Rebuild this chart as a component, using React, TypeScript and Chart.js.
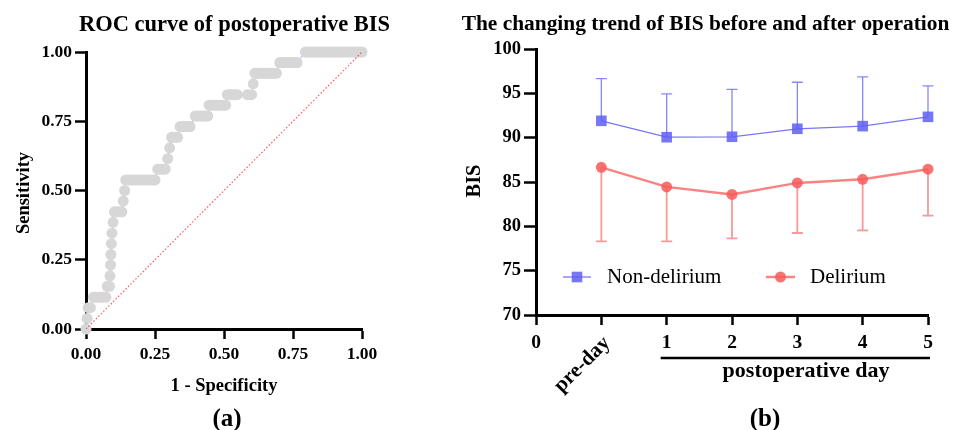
import React, { useEffect, useRef } from 'react';
import { Chart, registerables } from 'chart.js';

Chart.register(...registerables);

const FONT = "'Times New Roman', 'Liberation Serif', 'DejaVu Serif', serif";

// ---------- (a) ROC curve data ----------
const rocFpr = [
  0.000, 0.004, 0.008, 0.016,
  0.027, 0.036, 0.045, 0.054, 0.063, 0.072,
  0.077, 0.085,
  0.087, 0.089, 0.090, 0.092, 0.094, 0.098,
  0.103, 0.112, 0.121, 0.130,
  0.135, 0.140,
  0.144, 0.153, 0.162, 0.171, 0.180, 0.189, 0.198, 0.207, 0.216, 0.225, 0.234, 0.243, 0.250,
  0.260, 0.269, 0.278, 0.287,
  0.296, 0.303, 0.310, 0.314, 0.323, 0.332,
  0.341, 0.350, 0.359, 0.368, 0.377,
  0.396, 0.405, 0.414, 0.423, 0.432, 0.441,
  0.446, 0.455, 0.464, 0.473, 0.482, 0.491, 0.500, 0.506,
  0.512, 0.521, 0.530, 0.539, 0.548, 0.585, 0.600,
  0.606, 0.612, 0.621, 0.630, 0.639, 0.648, 0.657, 0.666, 0.675, 0.684, 0.690,
  0.702, 0.711, 0.720, 0.729, 0.738, 0.747, 0.756, 0.765,
  0.795, 0.804, 0.813, 0.822, 0.831, 0.840, 0.849, 0.858, 0.867, 0.876, 0.885, 0.894,
  0.903, 0.912, 0.921, 0.930, 0.939, 0.948, 0.957, 0.966, 0.975, 0.984, 0.993, 1.000,
];
const rocTpr = [
  0.000, 0.038, 0.077, 0.077,
  0.115, 0.115, 0.115, 0.115, 0.115, 0.115,
  0.154, 0.154,
  0.192, 0.231, 0.269, 0.308, 0.346, 0.385,
  0.423, 0.423, 0.423, 0.423,
  0.462, 0.500,
  0.538, 0.538, 0.538, 0.538, 0.538, 0.538, 0.538, 0.538, 0.538, 0.538, 0.538, 0.538, 0.538,
  0.577, 0.577, 0.577, 0.577,
  0.615, 0.654, 0.692, 0.692, 0.692, 0.692,
  0.731, 0.731, 0.731, 0.731, 0.731,
  0.769, 0.769, 0.769, 0.769, 0.769, 0.769,
  0.808, 0.808, 0.808, 0.808, 0.808, 0.808, 0.808, 0.808,
  0.846, 0.846, 0.846, 0.846, 0.846, 0.846, 0.846,
  0.885, 0.923, 0.923, 0.923, 0.923, 0.923, 0.923, 0.923, 0.923, 0.923, 0.923,
  0.962, 0.962, 0.962, 0.962, 0.962, 0.962, 0.962, 0.962,
  1.000, 1.000, 1.000, 1.000, 1.000, 1.000, 1.000, 1.000, 1.000, 1.000, 1.000, 1.000,
  1.000, 1.000, 1.000, 1.000, 1.000, 1.000, 1.000, 1.000, 1.000, 1.000, 1.000, 1.000,
];
const rocDiagonalX = [0, 1];
const rocDiagonalY = [0, 1];

// ---------- (b) BIS trend data ----------
const xTickLabels = ['0', 'pre-day', '1', '2', '3', '4', '5'];
const dayPositions = [1, 2, 3, 4, 5, 6];
const nonDeliriumMean = [91.9, 90.05, 90.1, 91.0, 91.3, 92.35];
const nonDeliriumUpper = [96.65, 94.95, 95.45, 96.25, 96.85, 95.85];
const deliriumMean = [86.65, 84.45, 83.6, 84.9, 85.3, 86.45];
const deliriumLower = [78.3, 78.3, 78.65, 79.25, 79.55, 81.2];
const legendLabels = ['Non-delirium', 'Delirium'];

const BLUE = 'rgba(95,95,245,0.85)';
const BLUE_LINE = 'rgba(95,95,245,0.85)';
const RED = 'rgba(248,90,90,0.85)';
const RED_LINE = 'rgba(248,100,100,0.8)';

type TextItem = {
  text: string;
  x: number;
  y: number;
  size: number;
  weight?: string;
  align?: CanvasTextAlign;
  baseline?: CanvasTextBaseline;
  rotate?: number;
};

const textPlugin = {
  id: 'texts',
  afterDraw(chart: any, _args: any, opts: any) {
    const items: TextItem[] = (opts && opts.items) || [];
    const ctx = chart.ctx as CanvasRenderingContext2D;
    items.forEach((it) => {
      ctx.save();
      ctx.translate(it.x, it.y);
      if (it.rotate) ctx.rotate(it.rotate);
      ctx.font = `${it.weight || 'bold'} ${it.size}px ${FONT}`;
      ctx.fillStyle = '#000';
      ctx.textAlign = it.align || 'center';
      ctx.textBaseline = it.baseline || 'alphabetic';
      ctx.fillText(it.text, 0, 0);
      ctx.restore();
    });
  },
};

const errorBarPlugin = {
  id: 'errorBars',
  beforeDatasetsDraw(chart: any) {
    const { ctx, scales } = chart;
    const xs = scales.x;
    const ys = scales.y;
    const draw = (means: number[], ends: number[], color: string, width: number) => {
      ctx.save();
      ctx.strokeStyle = color;
      ctx.lineWidth = width;
      means.forEach((m, i) => {
        const px = xs.getPixelForValue(dayPositions[i]);
        const py0 = ys.getPixelForValue(m);
        const py1 = ys.getPixelForValue(ends[i]);
        ctx.beginPath();
        ctx.moveTo(px, py0);
        ctx.lineTo(px, py1);
        ctx.moveTo(px - 5.5, py1);
        ctx.lineTo(px + 5.5, py1);
        ctx.stroke();
      });
      ctx.restore();
    };
    draw(nonDeliriumMean, nonDeliriumUpper, 'rgba(95,95,245,0.75)', 1.3);
    draw(deliriumMean, deliriumLower, 'rgba(248,110,110,0.7)', 1.8);
  },
  afterDraw(chart: any) {
    const { ctx, scales } = chart;
    const xs = scales.x;
    // bracket line under the postoperative days
    const x0 = xs.getPixelForValue(2) - 6;
    const x1 = xs.getPixelForValue(6) + 2;
    ctx.save();
    ctx.strokeStyle = '#000';
    ctx.lineWidth = 2.5;
    ctx.beginPath();
    ctx.moveTo(x0, 358);
    ctx.lineTo(x1, 358);
    ctx.stroke();
    // legend markers
    const ly = 277;
    ctx.strokeStyle = BLUE_LINE;
    ctx.lineWidth = 1.3;
    ctx.beginPath();
    ctx.moveTo(123, ly);
    ctx.lineTo(151, ly);
    ctx.stroke();
    ctx.fillStyle = BLUE;
    ctx.fillRect(137 - 5.3, ly - 5.3, 10.6, 10.6);
    ctx.strokeStyle = RED_LINE;
    ctx.lineWidth = 2.5;
    ctx.beginPath();
    ctx.moveTo(326, ly);
    ctx.lineTo(355, ly);
    ctx.stroke();
    ctx.fillStyle = RED;
    ctx.beginPath();
    ctx.arc(340.5, ly, 5.5, 0, Math.PI * 2);
    ctx.fill();
    ctx.restore();
  },
};

function RocChart() {
  const ref = useRef<HTMLCanvasElement>(null);
  useEffect(() => {
    if (!ref.current) return;
    const points = rocFpr.map((x, i) => ({ x, y: rocTpr[i] }));
    const diag = rocDiagonalX.map((x, i) => ({ x, y: rocDiagonalY[i] }));
    const chart = new Chart(ref.current, {
      type: 'scatter',
      data: {
        datasets: [
          {
            label: 'Reference',
            data: diag,
            showLine: true,
            borderColor: 'rgba(255,70,70,0.9)',
            borderWidth: 1.2,
            borderDash: [1.5, 2],
            pointRadius: 0,
            order: 0,
          } as any,
          {
            label: 'ROC points',
            data: points,
            showLine: false,
            pointRadius: 5.5,
            backgroundColor: '#d7d7d7',
            pointBackgroundColor: '#d7d7d7',
            borderColor: 'rgba(0,0,0,0)',
            pointBorderColor: 'rgba(0,0,0,0)',
            borderWidth: 0,
            pointBorderWidth: 0,
            clip: false,
            order: 1,
          } as any,
          {
            label: 'ROC line',
            data: points,
            showLine: true,
            borderColor: 'rgba(110,110,255,0.6)',
            borderWidth: 1,
            pointRadius: 0,
            order: 2,
          } as any,
        ],
      },
      options: {
        responsive: false,
        animation: false,
        events: [],
        layout: { padding: { top: 52, right: 78, left: 0, bottom: 0 } },
        plugins: {
          legend: { display: false },
          tooltip: { enabled: false },
          texts: {
            items: [
              { text: 'ROC curve of postoperative BIS', x: 234.5, y: 31, size: 22.5 },
              { text: 'Sensitivity', x: 28.5, y: 193, size: 18.5, rotate: -Math.PI / 2 },
              { text: '1 - Specificity', x: 224, y: 391, size: 18.5 },
              { text: '(a)', x: 227, y: 426, size: 25 },
            ],
          },
        } as any,
        scales: {
          x: {
            type: 'linear',
            min: 0,
            max: 1,
            afterFit: (s: any) => { s.height = 101; },
            ticks: {
              stepSize: 0.25,
              padding: 5,
              color: '#000',
              font: { family: FONT, size: 17.5, weight: 'bold' },
              callback: (v: any) => Number(v).toFixed(2),
            },
            grid: { drawOnChartArea: false, drawTicks: true, tickLength: 10, tickWidth: 2.5, tickColor: '#000' },
            border: { display: true, color: '#000', width: 3 },
          },
          y: {
            type: 'linear',
            min: 0,
            max: 1,
            afterFit: (s: any) => { s.width = 86; },
            ticks: {
              stepSize: 0.25,
              padding: 3,
              color: '#000',
              font: { family: FONT, size: 17.5, weight: 'bold' },
              callback: (v: any) => Number(v).toFixed(2),
            },
            grid: { drawOnChartArea: false, drawTicks: true, tickLength: 11, tickWidth: 2.5, tickColor: '#000' },
            border: { display: true, color: '#000', width: 3 },
          },
        },
      },
      plugins: [textPlugin],
    } as any);
    return () => chart.destroy();
  }, []);
  return <canvas ref={ref} width={440} height={430} style={{ position: 'absolute', left: 0, top: 0 }} />;
}

function TrendChart() {
  const ref = useRef<HTMLCanvasElement>(null);
  useEffect(() => {
    if (!ref.current) return;
    const chart = new Chart(ref.current, {
      type: 'line',
      data: {
        datasets: [
          {
            label: legendLabels[0],
            data: dayPositions.map((x, i) => ({ x, y: nonDeliriumMean[i] })),
            borderColor: BLUE_LINE,
            borderWidth: 1.3,
            pointStyle: 'rect',
            pointRadius: 7.5,
            pointBackgroundColor: BLUE,
            pointBorderWidth: 0,
            clip: false,
          } as any,
          {
            label: legendLabels[1],
            data: dayPositions.map((x, i) => ({ x, y: deliriumMean[i] })),
            borderColor: RED_LINE,
            borderWidth: 2.5,
            pointStyle: 'circle',
            pointRadius: 5.5,
            pointBackgroundColor: RED,
            pointBorderWidth: 0,
            clip: false,
          } as any,
        ],
      },
      options: {
        responsive: false,
        animation: false,
        events: [],
        layout: { padding: { top: 49, right: 50, left: 0, bottom: 0 } },
        plugins: {
          legend: { display: false },
          tooltip: { enabled: false },
          texts: {
            items: [
              { text: 'The changing trend of BIS before and after operation', x: 265.5, y: 30, size: 21.4 },
              { text: 'BIS', x: 40, y: 181, size: 20.5, rotate: -Math.PI / 2 },
              { text: xTickLabels[1], x: 167, y: 340, size: 21, align: 'right', baseline: 'middle', rotate: -Math.PI / 4 },
              { text: 'postoperative day', x: 366, y: 377, size: 22 },
              { text: '(b)', x: 325, y: 426, size: 25 },
              { text: legendLabels[0], x: 167, y: 283, size: 21, weight: 'normal', align: 'left' },
              { text: legendLabels[1], x: 370, y: 283, size: 21, weight: 'normal', align: 'left' },
            ],
          },
        } as any,
        scales: {
          x: {
            type: 'linear',
            min: 0,
            max: 6,
            afterFit: (s: any) => { s.height = 115; },
            ticks: {
              stepSize: 1,
              padding: 6,
              color: '#000',
              maxRotation: 0,
              font: { family: FONT, size: 19.5, weight: 'bold' },
              callback: (v: any) => (xTickLabels[v] === 'pre-day' ? '' : xTickLabels[v]),
            },
            grid: { drawOnChartArea: false, drawTicks: true, tickLength: 10, tickWidth: 2.5, tickColor: '#000' },
            border: { display: true, color: '#000', width: 3 },
          },
          y: {
            type: 'linear',
            min: 70,
            max: 100,
            afterFit: (s: any) => { s.width = 96; },
            ticks: {
              stepSize: 5,
              padding: 3,
              color: '#000',
              font: { family: FONT, size: 18.5, weight: 'bold' },
            },
            grid: { drawOnChartArea: false, drawTicks: true, tickLength: 12, tickWidth: 2.5, tickColor: '#000' },
            border: { display: true, color: '#000', width: 3 },
          },
        },
      },
      plugins: [errorBarPlugin, textPlugin],
    } as any);
    return () => chart.destroy();
  }, []);
  return <canvas ref={ref} width={538} height={430} style={{ position: 'absolute', left: 440, top: 0 }} />;
}

export default function App() {
  return (
    <div style={{ position: 'absolute', left: 0, top: 0, width: 978, height: 430, background: '#fff' }}>
      <RocChart />
      <TrendChart />
    </div>
  );
}
